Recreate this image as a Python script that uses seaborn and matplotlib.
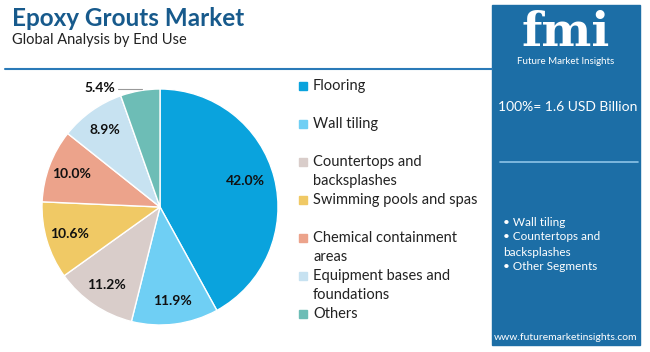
import matplotlib
matplotlib.use("Agg")
import matplotlib.pyplot as plt
import seaborn as sns
from matplotlib.patches import Rectangle
from matplotlib.lines import Line2D

categories = ["Flooring", "Wall tiling", "Countertops and\nbacksplashes",
              "Swimming pools and spas", "Chemical containment\nareas",
              "Equipment bases and\nfoundations", "Others"]
values = [42.0, 11.9, 11.2, 10.6, 10.0, 8.9, 5.4]
colors = ["#0aa3dd", "#6fcff4", "#d9cdca", "#f0c965", "#eca38b", "#c7e2f1", "#6dbdb6"]
bullets = ["• Wall tiling", "• Countertops and", "backsplashes", "• Other Segments"]

sns.set_theme(style="white")
plt.rcParams['font.family'] = ['Lato', 'DejaVu Sans']

fig = plt.figure(figsize=(6.5, 3.52), dpi=100)
fig.patch.set_facecolor("white")

W, H = 650, 352
def fx(x): return x / W
def fy(y): return 1 - y / H

# Title
fig.text(fx(12), fy(18), "Epoxy Grouts Market", fontsize=17.5, fontweight="bold",
         color="#175a8c", va="center", ha="left")
fig.text(fx(12), fy(40), "Global Analysis by End Use", fontsize=10.5,
         color="#222222", va="center", ha="left")
fig.add_artist(Line2D([fx(5), fx(492)], [fy(69), fy(69)], color="#2a7ab8", lw=1.5))

# Pie
cx, cy, r = 160, 207, 118
ax = fig.add_axes([fx(cx - r), fy(cy + r), 2 * r / W, 2 * r / H])
wedges, texts, autotexts = ax.pie(values, colors=colors, startangle=90, counterclock=False,
                                  autopct="%.1f%%", pctdistance=0.8,
                                  textprops=dict(fontsize=10, fontweight="bold", color="#111111"))
ax.set_xlim(-1, 1)
ax.set_ylim(-1, 1)
ax.set_aspect("equal")
autotexts[0].set_position((0.72, 0.22))
autotexts[-1].set_position((-0.51, 1.01))
ax.plot([-0.36, -0.15], [1.0, 1.0], color="#999999", lw=0.8, clip_on=False)

# Legend
y0 = 86
for i, (lab, col) in enumerate(zip(categories, colors)):
    y = y0 + 38 * i
    fig.add_artist(Rectangle((fx(299), fy(y + 4)), 8 / W, 8 / H, color=col))
    for j, ln in enumerate(lab.split("\n")):
        fig.text(fx(313), fy(y + 19 * j), ln, fontsize=10.5, color="#222222",
                 va="center", ha="left")

# Right panel
fig.add_artist(Rectangle((fx(492), fy(345)), 148 / W, 340 / H, color="#1c6ea6"))
fig.text(fx(566), fy(33), "fmi", fontsize=34, fontweight="bold", color="white",
         ha="center", va="center", family="DejaVu Serif")
fig.text(fx(566), fy(61), "Future Market Insights", fontsize=7, color="white",
         ha="center", va="center")
fig.text(fx(568), fy(107), "100%= 1.6 USD Billion", fontsize=10, color="white",
         ha="center", va="center")
fig.add_artist(Line2D([fx(500), fx(638)], [fy(162), fy(162)], color="#8ec4e8", lw=1.2))
for k, b in enumerate(bullets):
    fig.text(fx(503), fy(222 + 15 * k), b, fontsize=8.5, color="white", va="center")
fig.text(fx(566), fy(337), "www.futuremarketinsights.com", fontsize=7.5, color="white",
         ha="center", va="center")

fig.savefig("out.png", dpi=100, facecolor="white")
